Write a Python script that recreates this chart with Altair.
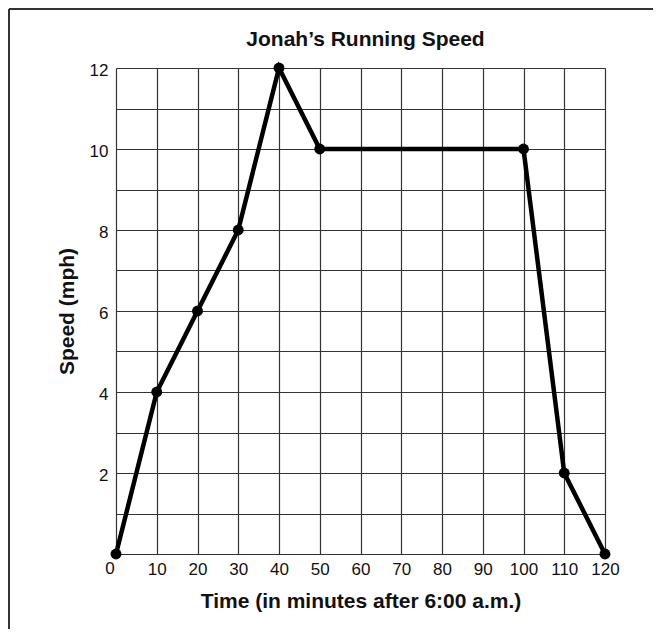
import json
import altair as alt
import pandas as pd

# Data
times = [0, 10, 20, 30, 40, 50, 100, 110, 120]
speeds = [0, 4, 6, 8, 12, 10, 10, 2, 0]
x_tick_values = [0, 10, 20, 30, 40, 50, 60, 70, 80, 90, 100, 110, 120]
y_grid_values = [0, 1, 2, 3, 4, 5, 6, 7, 8, 9, 10, 11, 12]
y_labelled = [2, 4, 6, 8, 10, 12]
origin_label = ["0"]
chart_title = ["Jonah’s Running Speed"]

FONT = "Liberation Sans"
INK = "#111111"
GRID = "#333333"
W, H = 489, 486

df = pd.DataFrame({"time": times, "speed": speeds})

x_enc = alt.X(
    "time:Q",
    scale=alt.Scale(domain=[0, 120], nice=False, zero=True),
    axis=alt.Axis(
        values=x_tick_values,
        title="Time (in minutes after 6:00 a.m.)",
        grid=True, gridColor=GRID, gridWidth=1.2, gridOpacity=1,
        domain=False, ticks=False, tickSize=0,
        labelPadding=7, labelFontSize=17, labelColor=INK, labelFont=FONT,
        labelOverlap=False, labelFlush=False,
        labelExpr="datum.value == 0 ? '' : datum.label",
        titleFontSize=21, titleFontWeight="bold", titleFont=FONT,
        titleColor=INK, titlePadding=13,
    ),
)
y_enc = alt.Y(
    "speed:Q",
    scale=alt.Scale(domain=[0, 12], nice=False),
    axis=alt.Axis(
        values=y_grid_values,
        title="Speed (mph)",
        grid=True, gridColor=GRID, gridWidth=1.2, gridOpacity=1,
        domain=False, ticks=False, tickSize=0,
        labelPadding=8, labelFontSize=17, labelColor=INK, labelFont=FONT,
        labelOverlap=False, labelFlush=False, labelOffset=2,
        labelExpr="indexof(%s, datum.value) >= 0 ? datum.label : ''" % json.dumps(y_labelled),
        titleFontSize=21, titleFontWeight="bold", titleFont=FONT,
        titleColor=INK, titlePadding=12,
    ),
)

base = alt.Chart(df)
line = base.mark_line(color="#000000", strokeWidth=4.5).encode(x=x_enc, y=y_enc)
pts = base.mark_circle(size=120, color="#000000", opacity=1).encode(x="time:Q", y="speed:Q")

zero = alt.Chart(
    pd.DataFrame({"label": origin_label, "time": [0], "speed": [0]})
).mark_text(
    dx=-6, dy=7, baseline="top", align="center", fontSize=17, font=FONT, color=INK
).encode(x="time:Q", y="speed:Q", text="label:N")

title = alt.Chart(pd.DataFrame({"t": chart_title})).mark_text(
    baseline="middle", align="center", fontSize=21, font=FONT, fontWeight="bold", color=INK
).encode(x=alt.value(W / 2 + 5), y=alt.value(-28), text="t:N")

frame_data = alt.Data(values=[{}])
left_border = alt.Chart(frame_data).mark_rule(color="#333333", strokeWidth=2).encode(
    x=alt.value(-107), y=alt.value(-59), y2=alt.value(570)
)
top_border = alt.Chart(frame_data).mark_rule(color="#333333", strokeWidth=2).encode(
    x=alt.value(-107), x2=alt.value(560), y=alt.value(-59)
)

chart = alt.layer(line, pts, zero, title, left_border, top_border).properties(
    width=W,
    height=H,
    autosize=alt.AutoSizeParams(type="none"),
    padding={"left": 108, "top": 60, "right": 48, "bottom": 75},
).configure_view(stroke=None).configure(background="white")

chart.save("out.html", embed_options={"renderer": "svg", "actions": False})
